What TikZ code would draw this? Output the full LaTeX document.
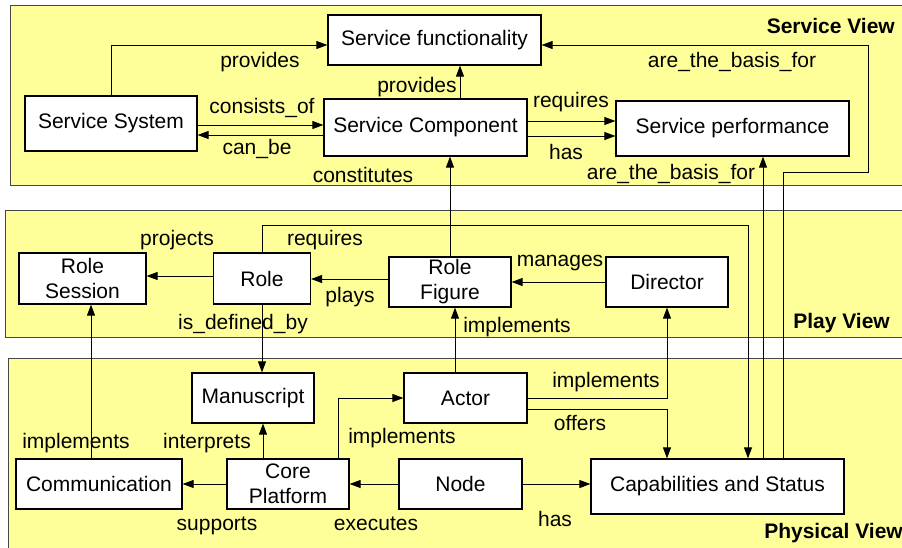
\documentclass[tikz,border=0pt]{standalone}
\usepackage{fontspec}
\setmainfont{Liberation Sans}
\usetikzlibrary{positioning,arrows.meta}
\definecolor{viewyellow}{RGB}{255,255,153}
\definecolor{viewframe}{RGB}{70,70,70}

\begin{document}
\begin{tikzpicture}[x=1pt,y=-1pt,>={Triangle[length=11pt,width=8pt]},
    font=\fontsize{21}{25}\selectfont,
    box/.style={draw,fill=white,line width=1.2pt,minimum width=122pt,minimum height=50pt,inner sep=2pt,align=center},
    conn/.style={->,line width=0.9pt},
    lbl/.style={anchor=base,inner sep=0pt},
    view/.style={draw=viewframe,fill=viewyellow,line width=1pt},
    viewname/.style={anchor=base east,inner sep=0pt,font=\fontsize{21}{25}\selectfont\bfseries}]
    \useasboundingbox[fill=white] (0,0) rectangle (902,547);
    % the three views
    \path[view] (10,5) rectangle (912,185);
    \path[view] (5,210) rectangle (912,337);
    \path[view] (8,358) rectangle (912,556);
    \node[viewname] (svname) at (895,33) {Service View};
    \node[viewname] (pvname) at (890,328) {Play View};
    \node[viewname] (phname) at (903,538) {Physical View};

    % service view
    \node[box,minimum width=213pt] (func) at (434.5,40) {Service functionality};
    \node[box,minimum width=172pt,minimum height=55pt] (system) at (111,123.5) {Service System};
    \node[box,minimum width=203pt,minimum height=57pt] (comp) at (425.5,127.5) {Service Component};
    \node[box,minimum width=233pt,minimum height=55pt] (perf) at (732.5,128.5) {Service performance};
    % play view
    \node[box,minimum width=97pt,minimum height=51pt] (role) at (262,278.5) {Role};
    \node[box,minimum width=127pt,minimum height=51pt] (session) [left of=role,node distance=179.5pt] {Role\\ Session};
    \node[box] (figure) at (450,282) {Role\\ Figure};
    \node[box] (director) [right of=figure,node distance=217pt] {Director};
    % physical view
    \node[box] (manuscript) at (253,398) {Manuscript};
    \node[box,minimum width=123pt] (actor) [right of=manuscript,node distance=212.5pt] {Actor};
    \node[box,minimum width=166pt] (comm) at (99,484) {Communication};
    \node[box] (core) [right of=comm,node distance=189pt] {Core\\ Platform};
    \node[box,minimum width=123pt] (node) [right of=core,node distance=172.5pt] {Node};
    \node[box,minimum width=253pt,minimum height=55pt] (caps) at (717.5,486.5) {Capabilities and Status};
    \coordinate (basis) at (868,172);
    \coordinate (reqbend) at (748,225);

    % paths in service view
    \draw[conn] (system.north) |- (func.west |- 0,45);
    \draw[conn] (system.east |- 0,125) -- (comp.west |- 0,125);
    \draw[conn] (comp.west |- 0,135) -- (system.east |- 0,135);
    \draw[conn] (comp.north -| 460,0) -- (func.south -| 460,0);
    \draw[conn] (comp.east |- 0,121) -- (perf.west |- 0,121);
    \draw[conn] (comp.east |- 0,136) -- (perf.west |- 0,136);
    % paths between the views
    \draw[conn] (figure.north) -- (figure.north |- comp.south);
    \draw[conn] (caps.north -| 763,0) -- (perf.south -| 763,0);
    \draw[conn] (caps.north -| 783,0) |- (basis) |- (func.east |- 0,45);
    \draw[conn] (role.north) |- (reqbend) -- (caps.north -| reqbend);
    \draw[conn] (role.south) -- (role.south |- manuscript.north);
    \draw[conn] (actor.north -| 455,0) -- (figure.south -| 455,0);
    \draw[conn] (actor.east) -| (director.south);
    \draw[conn] (comm.north -| 91,0) -- (session.south -| 91,0);
    % paths in play view
    \draw[conn] (role.west |- 0,276) -- (session.east |- 0,276);
    \draw[conn] (figure.west |- 0,279) -- (role.east |- 0,279);
    \draw[conn] (director.west) -- (figure.east);
    % paths in physical view
    \draw[conn] (actor.east |- 0,409) -| (caps.north -| director.south);
    \draw[conn] (node.east) -- (node.east -| caps.west);
    \draw[conn] (node.west) -- (core.east);
    \draw[conn] (core.west) -- (comm.east);
    \draw[conn] (core.north -| 263,0) -- (manuscript.south -| 263,0);
    \draw[conn] (core.north -| 338,0) |- (actor.west);

    % labels
    \node[lbl] (lprovides) at (260,67) {provides};
    \node[lbl] (lconsists) at (262,113) {consists\_of};
    \node[lbl] (lcanbe) at (257,154) {can\_be};
    \node[lbl] (lprovcomp) at (417,92) {provides};
    \node[lbl] (lconstitutes) at (363,182) {constitutes};
    \node[lbl] (lreqperf) at (571,107) {requires};
    \node[lbl] (lhasperf) at (566,159) {has};
    \node[lbl] (lbasisperf) at (671,179) {are\_the\_basis\_for};
    \node[lbl] (lbasisfunc) at (732,67) {are\_the\_basis\_for};
    \node[lbl] (lprojects) at (177,245) {projects};
    \node[lbl] (lreqrole) at (325,245) {requires};
    \node[lbl] (lplays) at (350,302) {plays};
    \node[lbl] (ldefined) at (243,329) {is\_defined\_by};
    \node[lbl] (lmanages) at (560,266) {manages};
    \node[lbl] (limplfig) at (517,332) {implements};
    \node[lbl] (limplcomm) at (76,448) {implements};
    \node[lbl] (linterprets) at (207,448) {interprets};
    \node[lbl] (limplcore) at (402,443) {implements};
    \node[lbl] (lsupports) at (217,530) {supports};
    \node[lbl] (lexecutes) at (376,530) {executes};
    \node[lbl] (limpldir) at (606,387) {implements};
    \node[lbl] (loffers) at (580,430) {offers};
    \node[lbl] (lhasnode) at (555,526) {has};
\end{tikzpicture}
\end{document}
